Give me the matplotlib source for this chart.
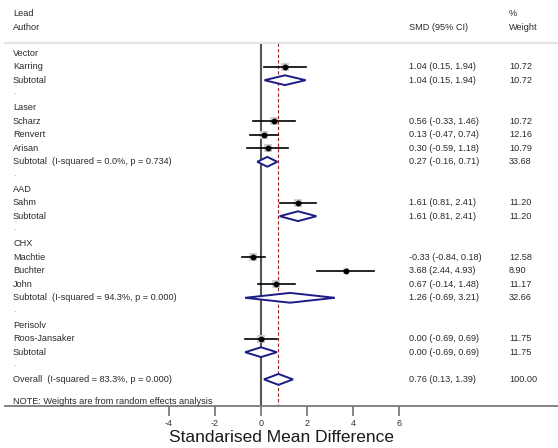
import matplotlib.pyplot as plt
from matplotlib.patches import Polygon

plt.rcParams['font.family'] = ['Liberation Sans', 'DejaVu Sans']

# data
groups = ['Vector', 'Laser', 'AAD', 'CHX', 'Perisolv']
authors = [['Karring'], ['Scharz', 'Renvert', 'Arisan'], ['Sahm'],
           ['Machtie', 'Buchter', 'John'], ['Roos-Jansaker']]
smd = [[1.04], [0.56, 0.13, 0.30], [1.61], [-0.33, 3.68, 0.67], [0.00]]
ci_lo = [[0.15], [-0.33, -0.47, -0.59], [0.81], [-0.84, 2.44, -0.14], [-0.69]]
ci_hi = [[1.94], [1.46, 0.74, 1.18], [2.41], [0.18, 4.93, 1.48], [0.69]]
weights = [[10.72], [10.72, 12.16, 10.79], [11.20], [12.58, 8.90, 11.17], [11.75]]

sub_smd = [1.04, 0.27, 1.61, 1.26, 0.00]
sub_lo = [0.15, -0.16, 0.81, -0.69, -0.69]
sub_hi = [1.94, 0.71, 2.41, 3.21, 0.69]
sub_w = [10.72, 33.68, 11.20, 32.66, 11.75]
sub_het = [None, (0.0, 0.734), None, (94.3, 0.000), None]

overall = (0.76, 0.13, 1.39, 100.00)
overall_het = (83.3, 0.000)
xticks = [-4, -2, 0, 2, 4, 6]

# layout (x in SMD units, y in row units)
W, H = 558, 448
x0_px, unit_px = 261, 23.0
row0_px, row_px = 53, 13.6
ax_left_px, ax_bot_px = 5, 406


def px_x(p):
    return (p - x0_px) / unit_px


def px_y(p):
    return (p - row0_px) / row_px


fig = plt.figure(figsize=(W / 100, H / 100), dpi=100)
ax = fig.add_axes([ax_left_px / W, (H - ax_bot_px) / H, (W - ax_left_px) / W, ax_bot_px / H])
ax.set_xlim(px_x(ax_left_px), px_x(W))
ax.set_ylim(px_y(ax_bot_px), px_y(0))

lab_x, smd_x, w_x = px_x(13), px_x(409), px_x(509)
fs = 6.6
tc = '#2a2a2a'
navy = '#1c1c84'


def txt(x, y, s, **kw):
    ax.text(x, y, s, fontsize=fs, color=kw.pop('color', tc), va='center', ha='left', **kw)


def ci_text(m, l, h):
    return f'{m:.2f} ({l:.2f}, {h:.2f})'


def diamond(y, m, l, h, hh=0.36):
    ax.add_patch(Polygon([[l, y], [m, y - hh], [h, y], [m, y + hh]], closed=True,
                         facecolor='white', edgecolor=navy, lw=1.4, zorder=4))


# header
txt(lab_x, px_y(14), 'Lead')
txt(lab_x, px_y(27), 'Author')
txt(smd_x, px_y(27), 'SMD (95% CI)')
txt(w_x, px_y(14), '%')
txt(w_x, px_y(27), 'Weight')
top = px_y(43)
ax.plot([px_x(ax_left_px), px_x(W)], [top, top], color='#e4e4e4', lw=1.5, clip_on=False)

r = 0
for gi, g in enumerate(groups):
    txt(lab_x, r, g)
    r += 1
    for a, m, l, h, w in zip(authors[gi], smd[gi], ci_lo[gi], ci_hi[gi], weights[gi]):
        txt(lab_x, r, a)
        ax.plot(m, r, 's', color='#cfcfcf', ms=w * 0.5, mew=0, zorder=2)
        ax.plot([l, h], [r, r], color='black', lw=1.2, zorder=3)
        ax.plot(m, r, 'o', color='black', ms=3.2, zorder=4)
        txt(smd_x, r, ci_text(m, l, h))
        txt(w_x, r, f'{w:.2f}')
        r += 1
    lab = 'Subtotal'
    if sub_het[gi] is not None:
        lab += f'  (I-squared = {sub_het[gi][0]:.1f}%, p = {sub_het[gi][1]:.3f})'
    txt(lab_x, r, lab)
    diamond(r, sub_smd[gi], sub_lo[gi], sub_hi[gi])
    txt(smd_x, r, ci_text(sub_smd[gi], sub_lo[gi], sub_hi[gi]))
    txt(w_x, r, f'{sub_w[gi]:.2f}')
    r += 1
    txt(lab_x, r - 0.15, '.', color='#d9a0a0')
    r += 1

txt(lab_x, r, f'Overall  (I-squared = {overall_het[0]:.1f}%, p = {overall_het[1]:.3f})')
diamond(r, *overall[:3], hh=0.4)
txt(smd_x, r, ci_text(*overall[:3]))
txt(w_x, r, f'{overall[3]:.2f}')
txt(lab_x, px_y(401), 'NOTE: Weights are from random effects analysis')

bottom = px_y(ax_bot_px)
ax.plot([0, 0], [top, bottom], color='#555555', lw=1.5, zorder=1)
ax.plot([overall[0]] * 2, [top, bottom], color='#a02020', lw=0.8, ls=(0, (3, 2)), zorder=1)

for s in ['top', 'left', 'right']:
    ax.spines[s].set_visible(False)
ax.spines['bottom'].set_color('#7a7a7a')
ax.spines['bottom'].set_linewidth(1.3)
ax.set_yticks([])
ax.set_xticks(xticks)
ax.set_xticklabels([str(t) for t in xticks])
ax.tick_params(axis='x', length=7, width=1.3, color='#7a7a7a', labelsize=6.5,
               labelcolor='#333333', pad=2)
ax.set_xlabel('Standarised Mean Difference', fontsize=12.5, color='#1a1a1a', labelpad=2)

fig.savefig('out.png', dpi=100)
